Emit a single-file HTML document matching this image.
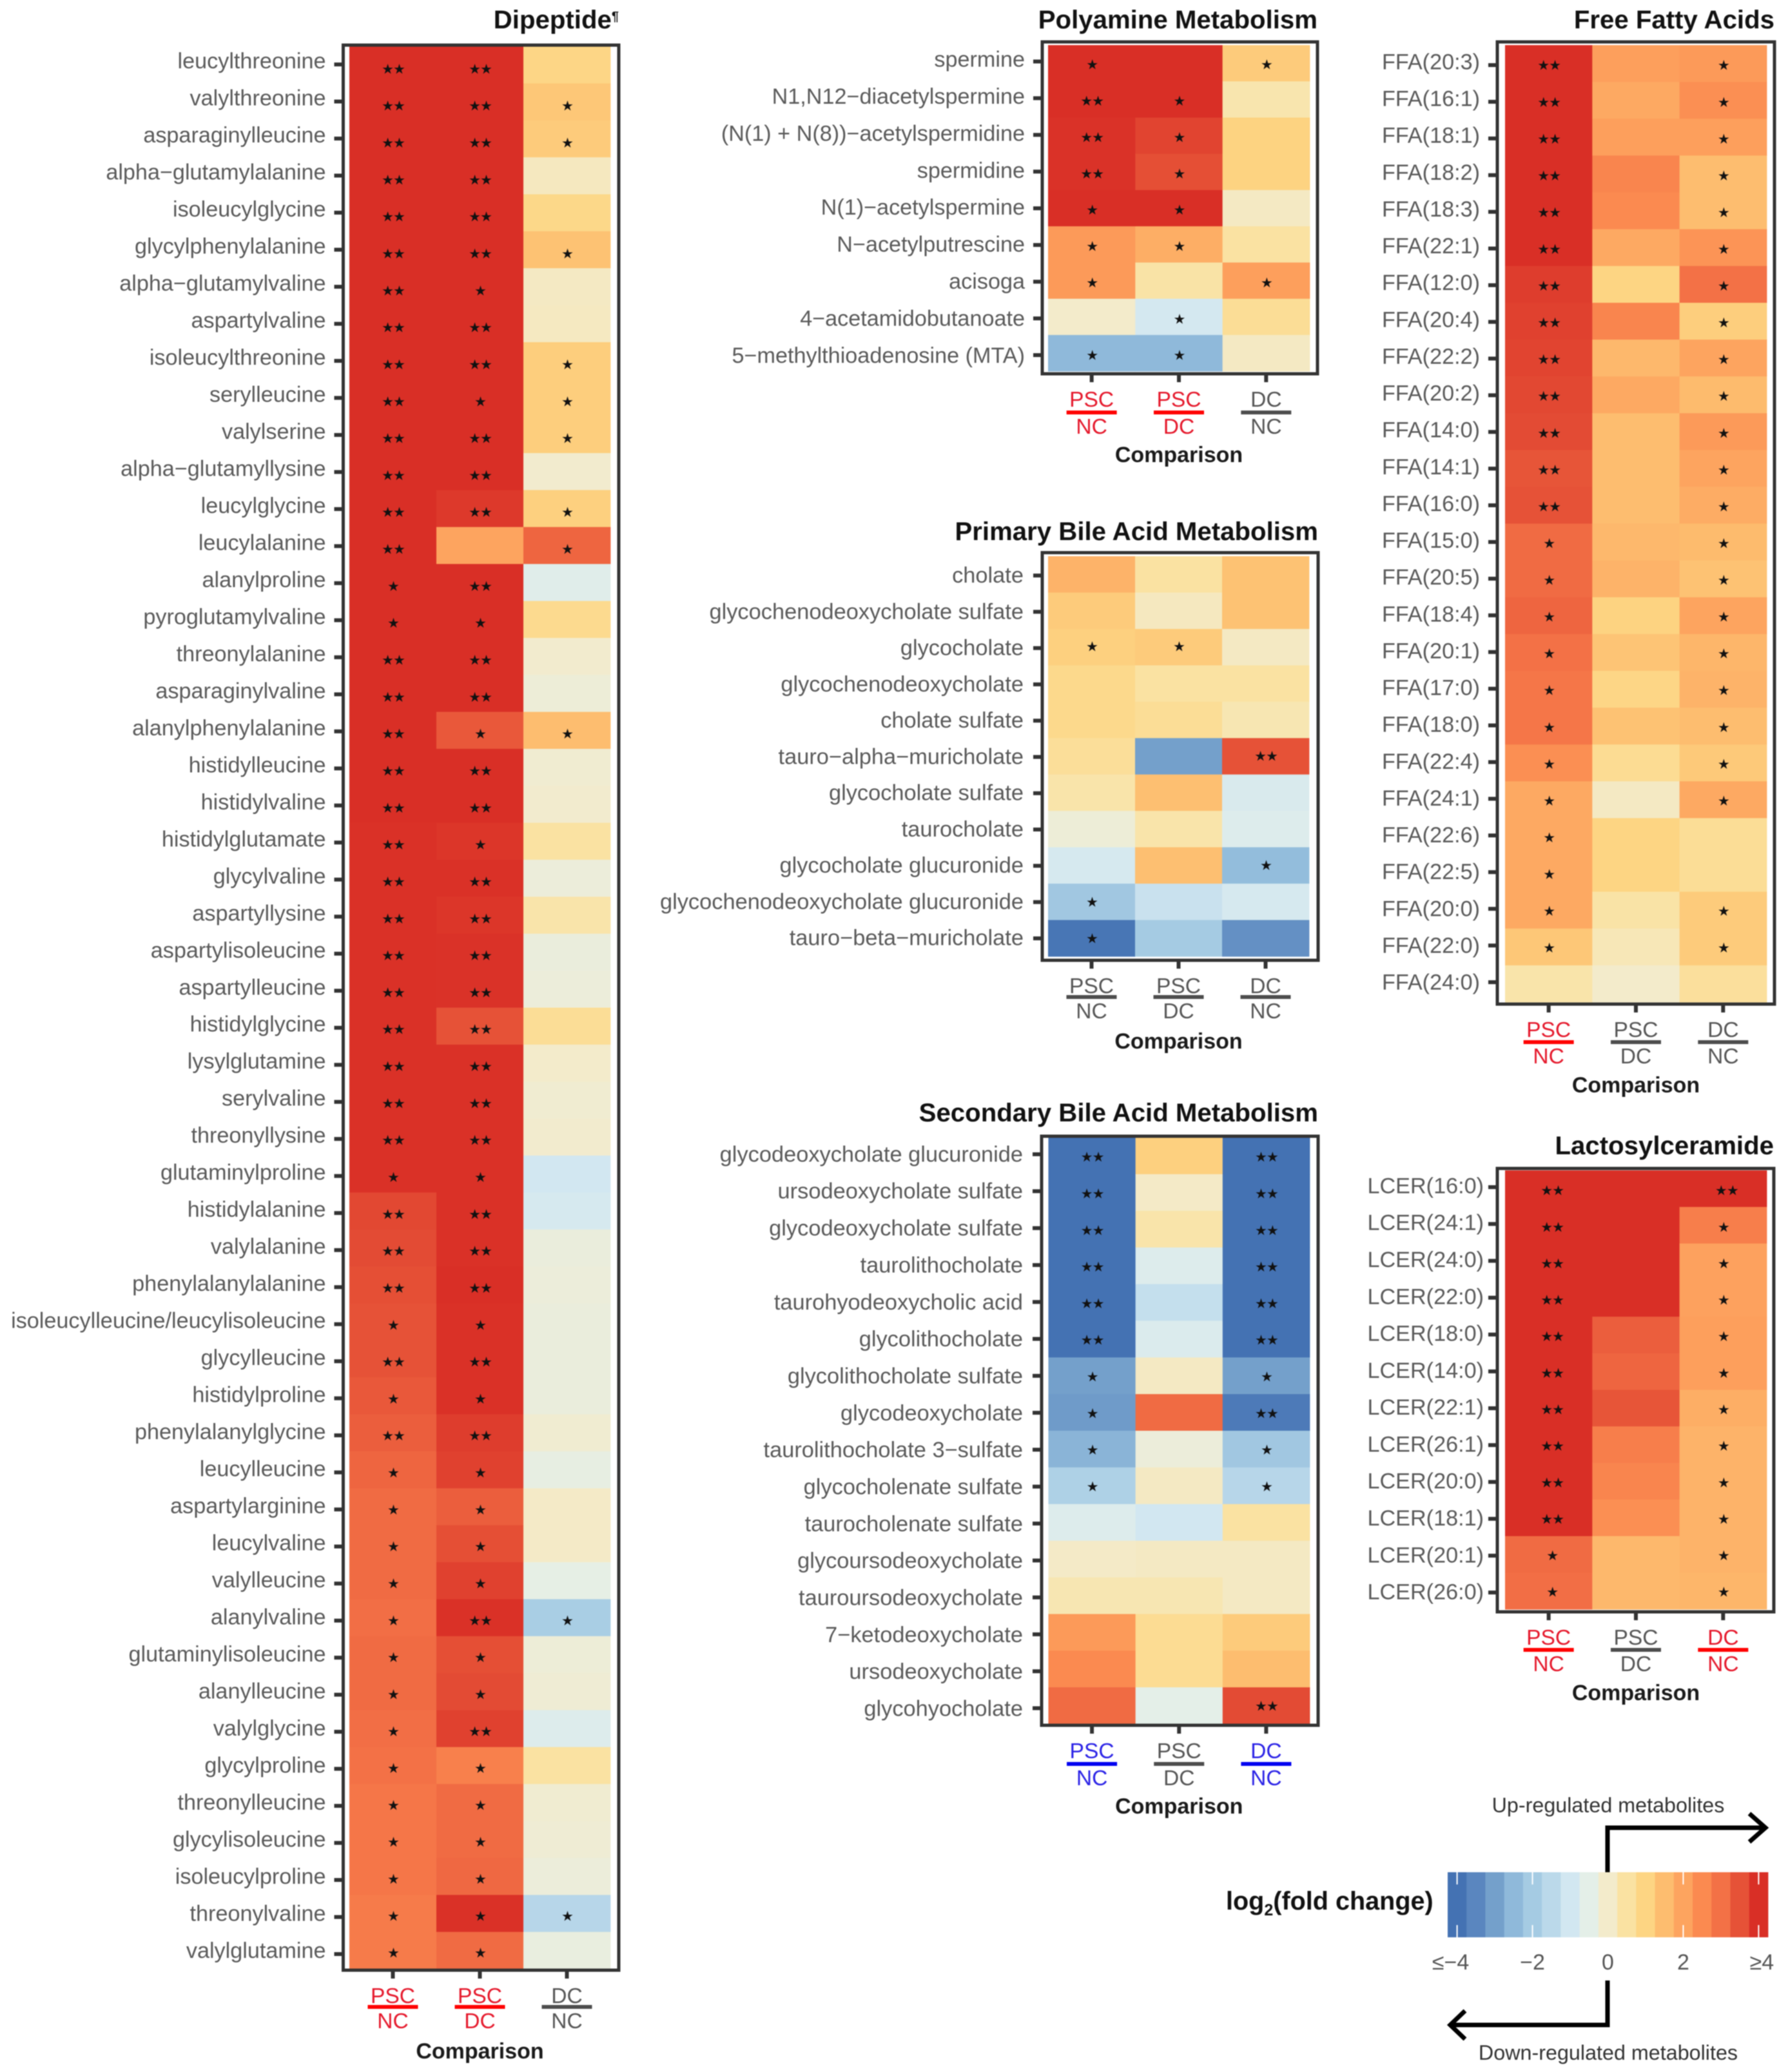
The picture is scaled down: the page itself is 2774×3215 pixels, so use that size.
<!DOCTYPE html>
<html lang="en">
<head>
<meta charset="utf-8">
<title>Metabolite heatmaps</title>
<style>
html,body{margin:0;padding:0;background:#fff;}
#chart{display:block;filter:blur(0.7px);}
text{font-family:"Liberation Sans",Arial,sans-serif;}
.star{font-family:"DejaVu Sans",sans-serif;fill:#111;stroke:#111;stroke-width:0.3px;}
</style>
</head>
<body>
<svg id="chart" xmlns="http://www.w3.org/2000/svg" width="2774" height="3215" viewBox="0 0 2774 3215">
<rect x="0" y="0" width="2774" height="3215" fill="#ffffff"/>
<g id="panels"></g>
<g id="legend">
<text x="1902" y="2963" font-size="39.6" font-weight="bold" fill="#111">log<tspan font-size="25" dy="9">2</tspan><tspan dy="-9">(fold change)</tspan></text>
<text x="2495" y="2812" font-size="32.3" fill="#333" text-anchor="middle">Up-regulated metabolites</text>
<text x="2495" y="3196" font-size="32.3" fill="#333" text-anchor="middle">Down-regulated metabolites</text>
<path d="M2494 2905V2836H2737" fill="none" stroke="#000" stroke-width="7"/>
<path d="M2714 2814L2739 2836L2714 2858" fill="none" stroke="#000" stroke-width="7"/>
<path d="M2494 3073V3142H2252" fill="none" stroke="#000" stroke-width="7"/>
<path d="M2273 3120L2250 3142L2273 3164" fill="none" stroke="#000" stroke-width="7"/>
</g>
</svg>
<script>
// ---------- colour scale ----------
const paletteValues = [-4,-3.5,-3,-2.5,-2,-1.5,-1,-0.5,0,0.5,1,1.5,2,2.5,3,3.5,4];
const paletteColors = ["#4472b3","#5a86bf","#74a0cb","#8fb9da","#a5cbe3","#bbd9ea","#d2e7f1","#e4efe8","#f3ebcb","#fae2a2","#fdd583","#fdbd6f","#fda45f","#fb8a50","#f37146","#e65237","#d92f26"];

// ---------- Dipeptide ----------
const dipeptideLabels = ["leucylthreonine","valylthreonine","asparaginylleucine","alpha−glutamylalanine","isoleucylglycine","glycylphenylalanine","alpha−glutamylvaline","aspartylvaline","isoleucylthreonine","serylleucine","valylserine","alpha−glutamyllysine","leucylglycine","leucylalanine","alanylproline","pyroglutamylvaline","threonylalanine","asparaginylvaline","alanylphenylalanine","histidylleucine","histidylvaline","histidylglutamate","glycylvaline","aspartyllysine","aspartylisoleucine","aspartylleucine","histidylglycine","lysylglutamine","serylvaline","threonyllysine","glutaminylproline","histidylalanine","valylalanine","phenylalanylalanine","isoleucylleucine/leucylisoleucine","glycylleucine","histidylproline","phenylalanylglycine","leucylleucine","aspartylarginine","leucylvaline","valylleucine","alanylvaline","glutaminylisoleucine","alanylleucine","valylglycine","glycylproline","threonylleucine","glycylisoleucine","isoleucylproline","threonylvaline","valylglutamine"];
const dipeptidePscNc = [4,4,4,4,4,4,4,4,4,4,4,4,4,4,4,4,4,4,4,4,4,3.97,3.97,3.97,3.97,3.97,3.97,3.97,3.97,3.97,3.97,3.65,3.6,3.55,3.5,3.5,3.4,3.3,3.2,3.1,3.1,3.1,3.05,3.1,3.1,3.05,3,2.9,2.9,2.9,2.8,2.8];
const dipeptidePscDc = [4,4,4,4,4,4,4,4,4,4,4,4,3.85,2,4,4,4,4,3.4,4,4,3.9,3.97,3.9,3.95,3.95,3.5,3.97,3.97,3.97,3.97,3.97,3.97,4,3.97,3.97,3.97,3.8,3.75,3.3,3.55,3.75,3.97,3.55,3.6,3.75,2.7,3.1,3.1,3.15,3.97,3.1];
const dipeptideDcNc = [0.95,1.3,1.2,0.15,0.9,1.4,0.1,0.12,1.15,1.15,1.15,-0.05,1.1,3.2,-0.6,0.8,-0.05,-0.2,1.5,-0.1,-0.05,0.5,-0.25,0.4,-0.3,-0.25,0.7,0,-0.1,-0.05,-1,-0.9,-0.3,-0.25,-0.3,-0.3,-0.3,-0.1,-0.4,0.05,0.05,-0.45,-1.9,-0.2,-0.15,-0.7,0.5,-0.1,-0.15,-0.25,-1.6,-0.35];
const dipeptideStarsPscNc = [2,2,2,2,2,2,2,2,2,2,2,2,2,2,1,1,2,2,2,2,2,2,2,2,2,2,2,2,2,2,1,2,2,2,1,2,1,2,1,1,1,1,1,1,1,1,1,1,1,1,1,1];
const dipeptideStarsPscDc = [2,2,2,2,2,2,1,2,2,1,2,2,2,0,2,1,2,2,1,2,2,1,2,2,2,2,2,2,2,2,1,2,2,2,1,2,1,2,1,1,1,1,2,1,1,2,1,1,1,1,1,1];
const dipeptideStarsDcNc = [0,1,1,0,0,1,0,0,1,1,1,0,1,1,0,0,0,0,1,0,0,0,0,0,0,0,0,0,0,0,0,0,0,0,0,0,0,0,0,0,0,0,1,0,0,0,0,0,0,0,1,0];

// ---------- Polyamine Metabolism ----------
const polyamineLabels = ["spermine","N1,N12−diacetylspermine","(N(1) + N(8))−acetylspermidine","spermidine","N(1)−acetylspermine","N−acetylputrescine","acisoga","4−acetamidobutanoate","5−methylthioadenosine (MTA)"];
const polyaminePscNc = [4,4,3.95,3.95,4,2.2,2.2,0,-2.5];
const polyaminePscDc = [4,4,3.7,3.55,4,1.8,0.45,-0.95,-2.5];
const polyamineDcNc = [1.2,0.35,1.05,1.05,0.1,0.5,2.1,0.7,0.1];
const polyamineStarsPscNc = [1,2,2,2,1,1,1,0,1];
const polyamineStarsPscDc = [0,1,1,1,1,1,0,1,1];
const polyamineStarsDcNc = [1,0,0,0,0,0,1,0,0];

// ---------- Free Fatty Acids ----------
const ffaLabels = ["FFA(20:3)","FFA(16:1)","FFA(18:1)","FFA(18:2)","FFA(18:3)","FFA(22:1)","FFA(12:0)","FFA(20:4)","FFA(22:2)","FFA(20:2)","FFA(14:0)","FFA(14:1)","FFA(16:0)","FFA(15:0)","FFA(20:5)","FFA(18:4)","FFA(20:1)","FFA(17:0)","FFA(18:0)","FFA(22:4)","FFA(24:1)","FFA(22:6)","FFA(22:5)","FFA(20:0)","FFA(22:0)","FFA(24:0)"];
const ffaPscNc = [4,4,4,4,4,4,3.8,3.75,3.7,3.65,3.6,3.45,3.5,3.1,3.1,3.2,3,2.9,2.9,2.4,1.9,1.9,1.9,1.9,1.3,0.4];
const ffaPscDc = [2.1,1.9,2.1,2.6,2.5,1.9,1,2.6,1.6,1.9,1.5,1.5,1.5,1.6,1.7,1.05,1.35,0.95,1.4,0.75,0.1,1,1,0.45,0.25,0];
const ffaDcNc = [2.2,2.4,2.1,1.5,1.5,2.3,3,1.15,2,1.55,2.2,2,1.85,1.55,1.4,2,1.65,1.7,1.5,1.25,1.9,0.7,0.7,1.2,1.2,0.6];
const ffaStarsPscNc = [2,2,2,2,2,2,2,2,2,2,2,2,2,1,1,1,1,1,1,1,1,1,1,1,1,0];
const ffaStarsPscDc = [0,0,0,0,0,0,0,0,0,0,0,0,0,0,0,0,0,0,0,0,0,0,0,0,0,0];
const ffaStarsDcNc = [1,1,1,1,1,1,1,1,1,1,1,1,1,1,1,1,1,1,1,1,1,0,0,1,1,0];

// ---------- Primary Bile Acid Metabolism ----------
const primaryLabels = ["cholate","glycochenodeoxycholate sulfate","glycocholate","glycochenodeoxycholate","cholate sulfate","tauro−alpha−muricholate","glycocholate sulfate","taurocholate","glycocholate glucuronide","glycochenodeoxycholate glucuronide","tauro−beta−muricholate"];
const primaryPscNc = [1.7,1.2,1.1,0.85,0.85,0.65,0.4,-0.2,-0.9,-2.1,-3.9];
const primaryPscDc = [0.5,0.15,1.2,0.5,0.7,-3,1.45,0.4,1.45,-1.2,-2];
const primaryDcNc = [1.4,1.4,0.1,0.5,0.3,3.5,-0.8,-0.7,-2.4,-0.9,-3.3];
const primaryStarsPscNc = [0,0,1,0,0,0,0,0,0,1,1];
const primaryStarsPscDc = [0,0,1,0,0,0,0,0,0,0,0];
const primaryStarsDcNc = [0,0,0,0,0,2,0,0,1,0,0];

// ---------- Secondary Bile Acid Metabolism ----------
const secondaryLabels = ["glycodeoxycholate glucuronide","ursodeoxycholate sulfate","glycodeoxycholate sulfate","taurolithocholate","taurohyodeoxycholic acid","glycolithocholate","glycolithocholate sulfate","glycodeoxycholate","taurolithocholate 3−sulfate","glycocholenate sulfate","taurocholenate sulfate","glycoursodeoxycholate","tauroursodeoxycholate","7−ketodeoxycholate","ursodeoxycholate","glycohyocholate"];
const secondaryPscNc = [-4,-4,-4,-4,-4,-4,-3,-3.1,-2.6,-1.8,-0.7,0.05,0.3,2.2,2.5,3.1];
const secondaryPscDc = [1.1,0.05,0.4,-0.7,-1.3,-0.75,0.1,3.1,-0.25,0.1,-1,0.1,0.3,0.75,0.75,-0.5];
const secondaryDcNc = [-4,-4,-4,-4,-4,-4,-3,-3.8,-2.1,-1.6,0.5,0.1,0.1,1.2,1.5,3.6];
const secondaryStarsPscNc = [2,2,2,2,2,2,1,1,1,1,0,0,0,0,0,0];
const secondaryStarsPscDc = [0,0,0,0,0,0,0,0,0,0,0,0,0,0,0,0];
const secondaryStarsDcNc = [2,2,2,2,2,2,1,2,1,1,0,0,0,0,0,2];

// ---------- Lactosylceramide ----------
const lactosylLabels = ["LCER(16:0)","LCER(24:1)","LCER(24:0)","LCER(22:0)","LCER(18:0)","LCER(14:0)","LCER(22:1)","LCER(26:1)","LCER(20:0)","LCER(18:1)","LCER(20:1)","LCER(26:0)"];
const lactosylPscNc = [4,4,4,4,4,4,4,4,4,4,3.1,3.05];
const lactosylPscDc = [4,4,4,4,3.3,3.2,3.45,2.75,2.6,2.4,1.6,1.6];
const lactosylDcNc = [4,2.75,2.05,2.05,2.1,2.1,1.8,1.7,1.7,1.7,1.7,1.65];
const lactosylStarsPscNc = [2,2,2,2,2,2,2,2,2,2,1,1];
const lactosylStarsPscDc = [0,0,0,0,0,0,0,0,0,0,0,0];
const lactosylStarsDcNc = [2,1,1,1,1,1,1,1,1,1,1,1];

// ---------- Comparison axis and legend ----------
const comparisonTops = ["PSC","PSC","DC"];
const comparisonBottoms = ["NC","DC","NC"];
const comparisonKeys = ["psc-nc","psc-dc","dc-nc"];
const legendBandValues = [-4,-3.5,-3,-2.5,-2,-1.5,-1,-0.5,0,0.5,1,1.5,2,2.5,3,3.5,4];
const legendTickValues = [-4,-2,0,2,4];
const legendTickLabels = ["≤−4","−2","0","2","≥4"];
const legendWhiteTicks = [-4,-2,2,4];

const RED = "#e5182b", BLUE = "#2a22e6", GRAY = "#555555";
const NS = "http://www.w3.org/2000/svg";

function hexToRgb(h){
  return [parseInt(h.slice(1,3),16),parseInt(h.slice(3,5),16),parseInt(h.slice(5,7),16)];
}
function colorScale(v){
  const c = Math.max(paletteValues[0],Math.min(paletteValues[paletteValues.length-1],v));
  let i = 0;
  while(i < paletteValues.length-2 && c > paletteValues[i+1]) i++;
  const t = (c-paletteValues[i])/(paletteValues[i+1]-paletteValues[i]);
  const a = hexToRgb(paletteColors[i]), b = hexToRgb(paletteColors[i+1]);
  return "rgb("+a.map(function(x,k){return Math.round(x+(b[k]-x)*t);}).join(",")+")";
}
function make(tag,parent,attrs,txt){
  const el = document.createElementNS(NS,tag);
  for(const k in attrs) el.setAttribute(k,attrs[k]);
  if(txt!==undefined) el.textContent = txt;
  parent.appendChild(el);
  return el;
}

function drawPanel(p){
  const root = document.getElementById("panels");
  const g = make("g",root,{});
  
  

  const n = p.labels.length;
  const cellW = (p.cellR-p.cellL)/3;
  const cellH = (p.cellB-p.cellT)/n;
  const xScale = function(c){ return p.cellL + c*cellW; };
  const yScale = function(r){ return p.cellT + r*cellH; };
  const tickY = function(r){ return p.tickRange[0] + (p.tickRange[1]-p.tickRange[0])*r/(n-1); };
  const starY = function(r){ return p.starRange[0] + (p.starRange[1]-p.starRange[0])*r/(n-1); };
  const labelDy = function(r){ return p.labelDy[0] + (p.labelDy[1]-p.labelDy[0])*r/(n-1); };

  // heat cells
  p.series.forEach(function(vals,c){
    vals.forEach(function(v,r){
      const cell = make("rect",g,{x:xScale(c),y:yScale(r),width:cellW+0.4,height:cellH+0.4,fill:colorScale(v)});
      
      
    });
  });

  // significance stars
  p.stars.forEach(function(vals,c){
    vals.forEach(function(s,r){
      if(!s) return;
      const dx = p.starDx ? p.starDx[c]*(s===2?1:(c===2?0:1)) : 0;
      const star = make("text",g,{x:xScale(c)+cellW/2+1+dx,y:starY(r)+7.2,"font-size":20,"text-anchor":"middle","class":"star"},s===2?"★★":"★");
      
      
    });
  });

  // frame
  const frame = make("rect",g,{x:p.frameL,y:p.frameT,width:p.frameR-p.frameL,height:p.frameB-p.frameT,fill:"none",stroke:"#333",  "stroke-width":5});
  
  

  // row labels and ticks
  p.labels.forEach(function(lab,r){
    const cy = tickY(r);
    const tick = make("line",g,{x1:p.frameL-14,x2:p.frameL,y1:cy,y2:cy,stroke:"#333","stroke-width":6});
    
    
    const t = make("text",g,{x:p.frameL-p.labelGap,y:cy+labelDy(r),"font-size":p.labelSize,"text-anchor":"end",fill:"#5a5a5a"},lab);
    
    
  });

  // column ticks, fraction labels
  comparisonTops.forEach(function(top,c){
    const cx = xScale(c)+cellW/2;
    const col = p.colColors[c];
    const tick = make("line",g,{x1:cx,x2:cx,y1:p.frameB,y2:p.frameB+13,stroke:"#333","stroke-width":6});
    
    
    const a = make("text",g,{x:cx,y:p.frameB+51,"font-size":33.6,"text-anchor":"middle",fill:col},top);
    
    
    const bar = make("line",g,{x1:cx-39,x2:cx+39,y1:p.frameB+57+p.fracDy,y2:p.frameB+57+p.fracDy,stroke:col==="#555555"?"#4d4d4d":(col===RED?"#ff0000":"#0000f0"),"stroke-width":6});
    
    
    const b = make("text",g,{x:cx,y:p.frameB+90+p.fracDy,"font-size":33.6,"text-anchor":"middle",fill:col},comparisonBottoms[c]);
    
    
  });

  const xt = make("text",g,{x:xScale(1)+cellW/2,y:p.frameB+137,"font-size":34,"font-weight":"bold","text-anchor":"middle",fill:"#1a1a1a"},"Comparison");
  
  

  // title
  const title = make("text",g,{x:p.frameR,y:p.titleY,"font-size":40.2,"font-weight":"bold","text-anchor":"end",fill:"#111"},p.title);
  
  
  if(p.titleMark){
    const mark = make("tspan",title,{"font-size":20,dy:-12},p.titleMark);
    
    
  }
}

drawPanel({key:"dipeptide",title:"Dipeptide",titleMark:"¶",titleY:44,labels:dipeptideLabels,
  series:[dipeptidePscNc,dipeptidePscDc,dipeptideDcNc],stars:[dipeptideStarsPscNc,dipeptideStarsPscDc,dipeptideStarsDcNc],
  colColors:[RED,RED,GRAY],frameL:532.5,frameR:960,frameT:70,frameB:3057,cellL:542,cellR:947,cellT:72,cellB:3055,
  tickRange:[100,3032],labelDy:[6,6],starRange:[106.7,3030],labelGap:27,labelSize:34.2,fracDy:0});
drawPanel({key:"polyamine",title:"Polyamine Metabolism",titleY:44,labels:polyamineLabels,
  series:[polyaminePscNc,polyaminePscDc,polyamineDcNc],stars:[polyamineStarsPscNc,polyamineStarsPscDc,polyamineStarsDcNc],
  colColors:[RED,RED,GRAY],frameL:1617,frameR:2044,frameT:65,frameB:580,cellL:1626,cellR:2032,cellT:70,cellB:576,
  tickRange:[95.4,551],labelDy:[8,12],starRange:[100,551],labelGap:27,labelSize:34.2,fracDy:3});
drawPanel({key:"free-fatty-acids",title:"Free Fatty Acids",titleY:44,labels:ffaLabels,
  series:[ffaPscNc,ffaPscDc,ffaDcNc],stars:[ffaStarsPscNc,ffaStarsPscDc,ffaStarsDcNc],
  colColors:[RED,GRAY,GRAY],frameL:2323,frameR:2753,frameT:65,frameB:1558,cellL:2335,cellR:2741,cellT:70,cellB:1555,
  tickRange:[101,1524],labelDy:[6.5,11.5],starRange:[101,1527.5],labelGap:27,labelSize:34.2,fracDy:2});
drawPanel({key:"primary-bile-acid",title:"Primary Bile Acid Metabolism",titleY:838,labels:primaryLabels,
  series:[primaryPscNc,primaryPscDc,primaryDcNc],stars:[primaryStarsPscNc,primaryStarsPscDc,primaryStarsDcNc],
  colColors:[GRAY,GRAY,GRAY],frameL:1617,frameR:2045,frameT:857.5,frameB:1490,cellL:1626,cellR:2031,cellT:863,cellB:1484,
  tickRange:[893,1456],labelDy:[11,10.5],starRange:[889.5,1455.7],labelGap:29,labelSize:34.4,fracDy:0});
drawPanel({key:"secondary-bile-acid",title:"Secondary Bile Acid Metabolism",titleY:1740,labels:secondaryLabels,
  series:[secondaryPscNc,secondaryPscDc,secondaryDcNc],stars:[secondaryStarsPscNc,secondaryStarsPscDc,secondaryStarsDcNc],
  colColors:[BLUE,GRAY,BLUE],frameL:1616,frameR:2045,frameT:1763,frameB:2677,cellL:1626.5,cellR:2032,cellT:1765,cellB:2675,
  tickRange:[1791,2650.5],labelDy:[11.4,12],starRange:[1795,2647],labelGap:29,labelSize:34.4,fracDy:3});
drawPanel({key:"lactosylceramide",title:"Lactosylceramide",titleY:1791,labels:lactosylLabels,
  series:[lactosylPscNc,lactosylPscDc,lactosylDcNc],stars:[lactosylStarsPscNc,lactosylStarsPscDc,lactosylStarsDcNc],
  colColors:[RED,GRAY,RED],frameL:2323,frameR:2752,frameT:1813,frameB:2501,cellL:2335,cellR:2741,cellT:1816,cellB:2497,
  tickRange:[1842,2471],labelDy:[9.4,10.6],starRange:[1847,2470],starDx:[5,0,5],labelGap:21,labelSize:34.2,fracDy:2});

// ---------- legend ----------
(function(){
  const lg = document.getElementById("legend");
  const barL = 2246, barR = 2743, barT = 2905, barB = 3006;
  const bandW = (barR-barL)/legendBandValues.length;
  const legendX = function(v){ return barL + bandW/2 + (v+4)/8*(barR-barL-bandW); };
  legendBandValues.forEach(function(v){
    const b = make("rect",lg,{x:legendX(v)-bandW/2,y:barT,width:bandW+0.4,height:barB-barT,fill:colorScale(v)});
    
    
  });
  legendWhiteTicks.forEach(function(v){
    const t1 = make("line",lg,{x1:legendX(v),x2:legendX(v),y1:barT,y2:barT+19,stroke:"#fff","stroke-width":2});
    
    
    const t2 = make("line",lg,{x1:legendX(v),x2:legendX(v),y1:barB-19,y2:barB,stroke:"#fff","stroke-width":2});
    
    
  });
  legendTickValues.forEach(function(v,i){
    const offset = v===-4 ? -10 : (v===4 ? 5 : 0);
    const t = make("text",lg,{x:legendX(v)+offset,y:3056,"font-size":34,"text-anchor":"middle",fill:"#555"},legendTickLabels[i]);
    
    
  });
})();
</script>
</body>
</html>
